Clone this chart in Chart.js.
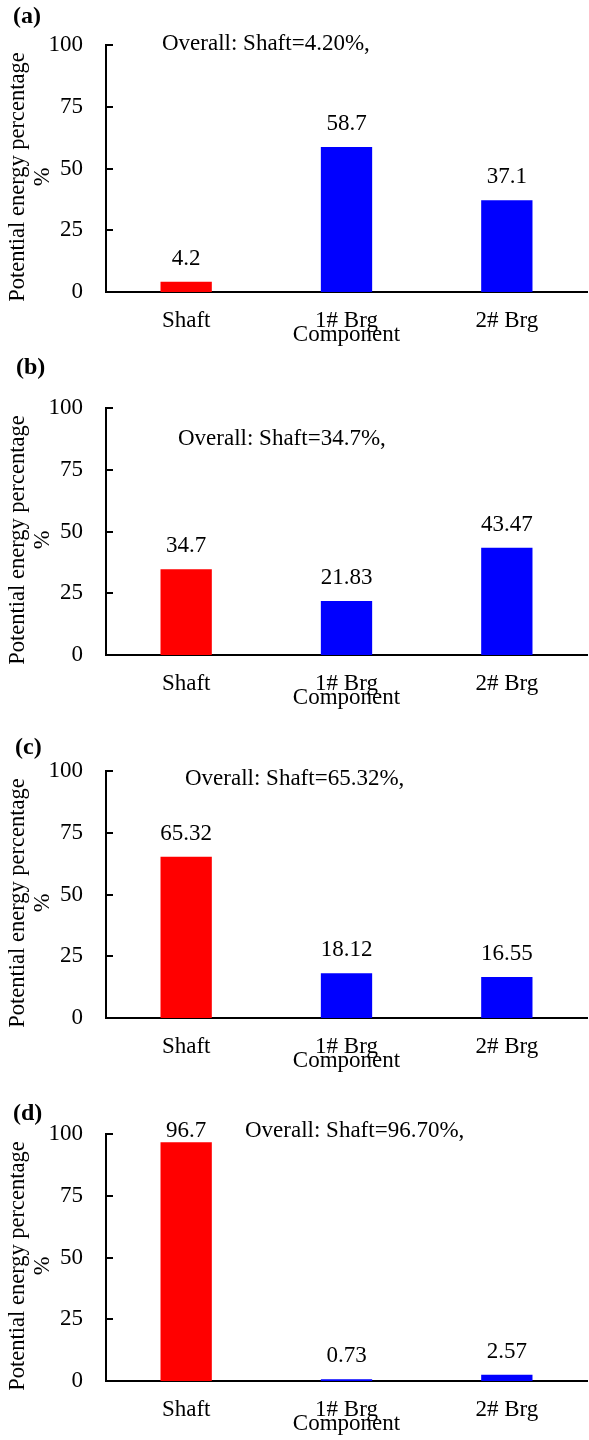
<!DOCTYPE html>
<html>
<head>
<meta charset="utf-8">
<script src="https://cdn.jsdelivr.net/npm/chart.js@4"></script>
<style>
  body { margin: 0; background: #fff; overflow: hidden; }
  .painel { position: absolute; left: 0; width: 589px; height: 383px; }
</style>
</head>
<body>
<div class="painel" style="top:-20px"><canvas id="g0"></canvas></div>
<div class="painel" style="top:343px"><canvas id="g1"></canvas></div>
<div class="painel" style="top:706px"><canvas id="g2"></canvas></div>
<div class="painel" style="top:1069px"><canvas id="g3"></canvas></div>
<script>
// dados
const categorias = ["Shaft", "1# Brg", "2# Brg"];
const valoresA = [4.2, 58.7, 37.1];
const valoresB = [34.7, 21.83, 43.47];
const valoresC = [65.32, 18.12, 16.55];
const valoresD = [96.7, 0.73, 2.57];
const rotulosA = ["4.2", "58.7", "37.1"];
const rotulosB = ["34.7", "21.83", "43.47"];
const rotulosC = ["65.32", "18.12", "16.55"];
const rotulosD = ["96.7", "0.73", "2.57"];
const letras = ["(a)", "(b)", "(c)", "(d)"];
const notas = ["Overall: Shaft=4.20%,", "Overall: Shaft=34.7%,", "Overall: Shaft=65.32%,", "Overall: Shaft=96.70%,"];
const ticksY = [0, 25, 50, 75, 100];
const coresBarras = ["#FF0000", "#0000FF", "#0000FF"];

// o canvas começa 20px acima do painel, para a letra (b) não ser cortada
const margemTopo = 20;
// posições dos textos soltos (x, linha de base dentro do painel)
const posLetra = [[13, 23], [16, 11], [15, 28], [13, 31]];
const posNota = [[162, 50], [178, 82], [185, 59], [245, 48]];

const fonte = "'Liberation Serif', 'Times New Roman', serif";

// plugin para escrever valores, letra do painel, nota e marcas do eixo y
const textosPlugin = {
  id: "textos",
  afterDatasetsDraw(chart, args, opts) {
    const ctx = chart.ctx;
    const area = chart.chartArea;
    ctx.save();
    // marcas para dentro
    const y = chart.scales.y;
    ctx.strokeStyle = "#000";
    ctx.lineWidth = 2;
    ticksY.forEach(v => {
      const py = Math.round(y.getPixelForValue(v));
      ctx.beginPath();
      ctx.moveTo(area.left, py);
      ctx.lineTo(area.left + 7, py);
      ctx.stroke();
    });
    ctx.fillStyle = "#000";
    ctx.font = "23px " + fonte;
    ctx.textAlign = "center";
    ctx.textBaseline = "alphabetic";
    const meta = chart.getDatasetMeta(0);
    meta.data.forEach((bar, i) => {
      const by = Math.max(bar.y - 17, area.top + 3); // rótulo não sobe além do topo
      ctx.fillText(opts.rotulos[i], bar.x, by);
    });
    ctx.textAlign = "left";
    ctx.fillText(opts.nota, opts.posNota[0], opts.posNota[1] + margemTopo);
    ctx.font = "bold 24px " + fonte;
    ctx.fillText(opts.letra, opts.posLetra[0], opts.posLetra[1] + margemTopo);
    ctx.restore();
  }
};

function gerarPainel(id, valores, rotulos, i) {
  const ctx = document.getElementById(id).getContext("2d");
  return new Chart(ctx, {
    type: "bar",
    data: {
      labels: categorias,
      datasets: [{
        data: valores,
        backgroundColor: coresBarras,
        categoryPercentage: 1,
        barPercentage: 0.32
      }]
    },
    options: {
      responsive: false,
      animation: false,
      devicePixelRatio: 1,
      layout: { padding: { top: 45 + margemTopo, left: 0, right: 2, bottom: 0 } },
      plugins: {
        legend: { display: false },
        tooltip: { enabled: false },
        textos: { rotulos: rotulos, nota: notas[i], letra: letras[i], posNota: posNota[i], posLetra: posLetra[i] }
      },
      scales: {
        x: {
          grid: { display: false, drawTicks: false },
          border: { display: true, color: "#000", width: 2 },
          ticks: { color: "#000", padding: 15, maxRotation: 0, font: { family: fonte, size: 23 } },
          title: { display: true, text: "Component", color: "#000", padding: { top: 0, bottom: 14 }, font: { family: fonte, size: 23 } },
          afterFit(scale) { scale.height = 71; }
        },
        y: {
          min: 0,
          max: 100,
          afterBuildTicks(scale) { scale.ticks = ticksY.map(v => ({ value: v })); },
          grid: { display: false, drawTicks: false },
          border: { display: true, color: "#000", width: 2 },
          ticks: { color: "#000", padding: 23, font: { family: fonte, size: 23 } },
          title: {
            display: true,
            text: ["Potential energy percentage   ", "%   "],
            color: "#000",
            padding: { top: 5, bottom: 0 },
            font: { family: fonte, size: 22.5, lineHeight: 1.133 }
          },
          afterFit(scale) { scale.width = 106; }
        }
      }
    },
    plugins: [textosPlugin]
  });
}

document.querySelectorAll("canvas").forEach(c => { c.width = 589; c.height = 383; });
gerarPainel("g0", valoresA, rotulosA, 0);
gerarPainel("g1", valoresB, rotulosB, 1);
gerarPainel("g2", valoresC, rotulosC, 2);
gerarPainel("g3", valoresD, rotulosD, 3);
</script>
</body>
</html>
